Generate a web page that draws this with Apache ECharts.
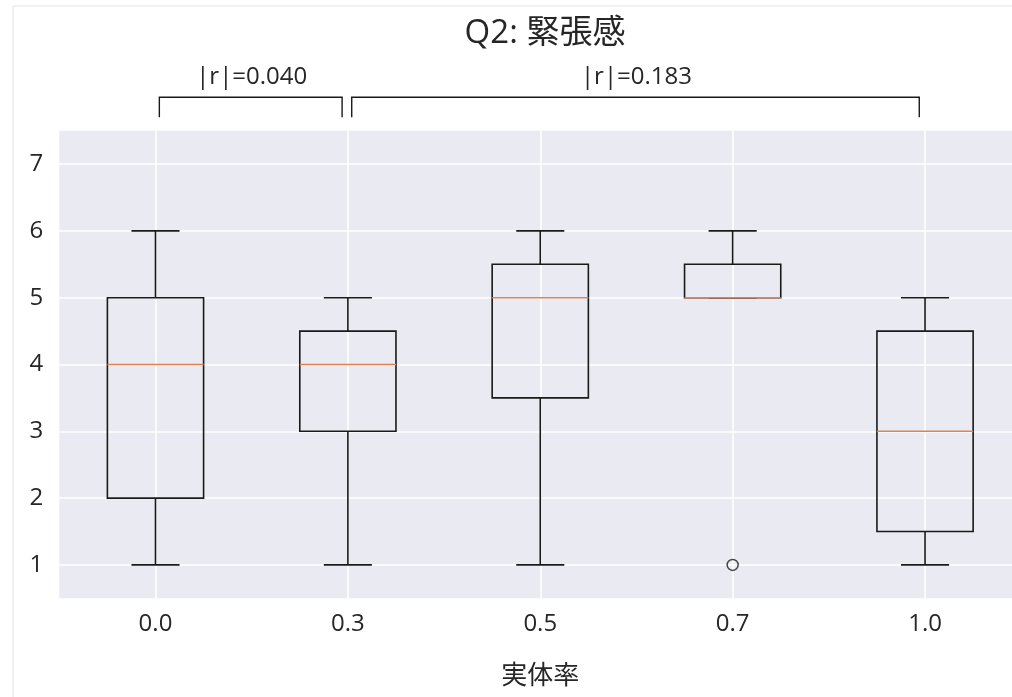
<!DOCTYPE html>
<html>
<head>
<meta charset="utf-8">
<script src="https://cdn.jsdelivr.net/npm/echarts@6/dist/echarts.min.js"></script>
<style>
  html, body { margin: 0; padding: 0; background: #ffffff; }
  #chart { width: 1012px; height: 697px; }
</style>
</head>
<body>
<div id="chart"></div>
<script>
// 実体率 groups and the five-number summary of each box
const categories = ['0.0', '0.3', '0.5', '0.7', '1.0'];
const whiskerLow = [1, 1, 1, 5, 1];
const quartile1 = [2, 3, 3.5, 5, 1.5];
const medians = [4, 4, 5, 5, 3];
const quartile3 = [5, 4.5, 5.5, 5.5, 4.5];
const whiskerHigh = [6, 5, 6, 6, 5];
// outliers: [group index, value]
const outliers = [[3, 1]];
// effect-size brackets between groups
const pairFrom = [0, 1];
const pairTo = [1, 4];
const pairLabels = ['|r|=0.040', '|r|=0.183'];
const yTicks = [1, 2, 3, 4, 5, 6, 7];

const TEXT = '#262626';
const FONT = '"Open Sans", "Noto Sans CJK JP", sans-serif';
const xPositions = categories.map((_, i) => i + 1);

const boxData = categories.map((_, i) => [
  i + 1, whiskerLow[i], quartile1[i], medians[i], quartile3[i], whiskerHigh[i]
]);
const outlierData = outliers.map(o => [o[0] + 1, o[1]]);
const bracketData = pairFrom.map((f, i) => [f + 1, pairTo[i] + 1, i]);

function renderBox(params, api) {
  const x = api.value(0);
  const half = api.size([0.25, 0])[0];
  const capHalf = api.size([0.125, 0])[0];
  const pLow = api.coord([x, api.value(1)]);
  const pQ1 = api.coord([x, api.value(2)]);
  const pMed = api.coord([x, api.value(3)]);
  const pQ3 = api.coord([x, api.value(4)]);
  const pHigh = api.coord([x, api.value(5)]);
  const cx = pLow[0];
  const lineStyle = { stroke: '#1a1a1a', lineWidth: 1.6, fill: null };
  const children = [];
  // box
  children.push({
    type: 'rect',
    shape: { x: cx - half, y: pQ3[1], width: half * 2, height: pQ1[1] - pQ3[1] },
    style: lineStyle
  });
  // whiskers
  if (pLow[1] !== pQ1[1]) {
    children.push({ type: 'line', shape: { x1: cx, y1: pQ1[1], x2: cx, y2: pLow[1] }, style: lineStyle });
  }
  if (pHigh[1] !== pQ3[1]) {
    children.push({ type: 'line', shape: { x1: cx, y1: pQ3[1], x2: cx, y2: pHigh[1] }, style: lineStyle });
  }
  // caps
  children.push({ type: 'line', shape: { x1: cx - capHalf, y1: pLow[1], x2: cx + capHalf, y2: pLow[1] }, style: lineStyle });
  children.push({ type: 'line', shape: { x1: cx - capHalf, y1: pHigh[1], x2: cx + capHalf, y2: pHigh[1] }, style: lineStyle });
  // median
  children.push({
    type: 'line',
    shape: { x1: cx - half, y1: pMed[1], x2: cx + half, y2: pMed[1] },
    style: { stroke: '#DD8452', lineWidth: 1.6 }
  });
  return { type: 'group', children: children };
}

function renderBracket(params, api) {
  const a = api.value(0) + 0.02;
  const b = api.value(1) - 0.03;
  const idx = api.value(2);
  const topY = 8.0;
  const legY = 7.7;
  const pA = api.coord([a, topY]);
  const pB = api.coord([b, topY]);
  const pA2 = api.coord([a, legY]);
  const pB2 = api.coord([b, legY]);
  const pText = api.coord([(api.value(0) + api.value(1)) / 2, 8.3]);
  const style = { stroke: '#1a1a1a', lineWidth: 1.4, fill: null };
  return {
    type: 'group',
    children: [
      {
        type: 'polyline',
        shape: { points: [pA2, pA, pB, pB2] },
        style: style
      },
      {
        type: 'text',
        x: pText[0],
        y: pText[1],
        style: {
          text: pairLabels[idx],
          fill: TEXT,
          font: '24px ' + FONT,
          align: 'center',
          verticalAlign: 'middle'
        }
      }
    ]
  };
}

const chart = echarts.init(document.getElementById('chart'));
chart.setOption({
  backgroundColor: '#ffffff',
  animation: false,
  title: {
    text: 'Q2: 緊張感',
    left: 540,
    textAlign: 'center',
    top: 12,
    textStyle: { fontFamily: FONT, fontSize: 33, fontWeight: 'normal', color: TEXT }
  },
  graphic: [
    { type: 'line', shape: { x1: 13, y1: 6, x2: 1012, y2: 6 }, style: { stroke: '#ededed', lineWidth: 1.5 } },
    { type: 'line', shape: { x1: 13, y1: 6, x2: 13, y2: 697 }, style: { stroke: '#ededed', lineWidth: 1.5 } }
  ],
  grid: {
    left: 59.3,
    top: 130.7,
    right: 0,
    bottom: 98.7,
    show: true,
    backgroundColor: '#EAEAF2',
    borderWidth: 0
  },
  xAxis: {
    type: 'value',
    min: 0.5,
    max: 5.452,
    name: '実体率',
    nameLocation: 'middle',
    nameGap: 65,
    nameTextStyle: { fontFamily: FONT, fontSize: 26, color: TEXT, padding: [0, 0, 0, 9] },
    axisLine: { show: false },
    axisTick: { show: false, customValues: xPositions },
    axisLabel: {
      customValues: xPositions,
      margin: 14,
      fontFamily: FONT,
      fontSize: 24,
      color: TEXT,
      formatter: v => categories[Math.round(v) - 1] || ''
    },
    splitLine: { show: true, lineStyle: { color: '#ffffff', width: 1.5 } }
  },
  yAxis: {
    type: 'value',
    min: 0.5,
    max: 7.5,
    axisLine: { show: false },
    axisTick: { show: false, customValues: yTicks },
    axisLabel: {
      customValues: yTicks,
      margin: 16,
      fontFamily: FONT,
      fontSize: 24,
      color: TEXT
    },
    splitLine: { show: true, lineStyle: { color: '#ffffff', width: 1.5 } }
  },
  series: [
    {
      type: 'custom',
      renderItem: renderBox,
      data: boxData,
      encode: { x: 0, y: [1, 2, 3, 4, 5] },
      clip: false,
      z: 3
    },
    {
      type: 'scatter',
      data: outlierData,
      symbol: 'circle',
      symbolSize: 11,
      itemStyle: { color: 'rgba(0,0,0,0)', borderColor: '#1a1a1a', borderWidth: 1.5 },
      z: 4
    },
    {
      type: 'custom',
      renderItem: renderBracket,
      data: bracketData,
      encode: { x: [0, 1] },
      clip: false,
      z: 5
    }
  ]
});
</script>
</body>
</html>
